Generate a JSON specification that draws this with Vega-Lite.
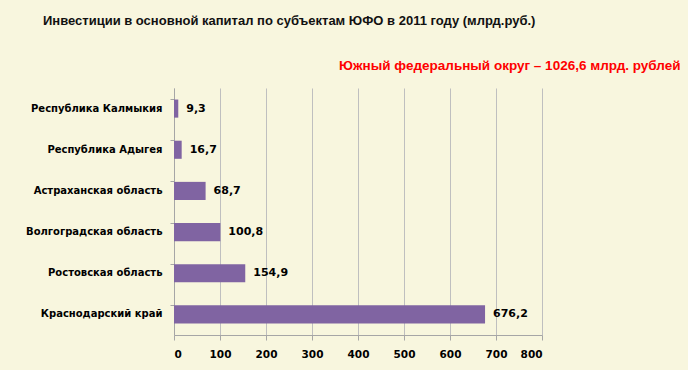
{
  "$schema": "https://vega.github.io/schema/vega-lite/v6.json",
  "autosize": "none",
  "width": 368,
  "height": 247,
  "padding": {"left": 174, "top": 88, "right": 146, "bottom": 35},
  "background": "#f8f6de",
  "config": {
    "view": {"stroke": null},
    "font": "Liberation Sans",
    "locale": {"number": {"decimal": ",", "thousands": " ", "grouping": [3], "currency": ["", " ₽"]}}
  },
  "title": {
    "text": "Инвестиции в основной капитал по субъектам ЮФО в 2011 году (млрд.руб.)",
    "anchor": "start",
    "frame": "group",
    "dx": -131,
    "offset": 20,
    "baseline": "alphabetic",
    "fontSize": 13,
    "fontWeight": "bold",
    "color": "#111111",
    "font": "Liberation Sans"
  },
  "data": {
    "values": [
      {"region": "Республика Калмыкия", "value": 9.3},
      {"region": "Республика Адыгея", "value": 16.7},
      {"region": "Астраханская область", "value": 68.7},
      {"region": "Волгоградская область", "value": 100.8},
      {"region": "Ростовская область", "value": 154.9},
      {"region": "Краснодарский край", "value": 676.2}
    ]
  },
  "encoding": {
    "y": {
      "field": "region",
      "type": "nominal",
      "sort": null,
      "scale": {"paddingInner": 0.56, "paddingOuter": 0.28},
      "axis": {
        "title": null,
        "bandPosition": 0,
        "domainColor": "#a6a6a6",
        "tickColor": "#a6a6a6",
        "tickSize": 4,
        "labelFont": "DejaVu Sans",
        "labelFontWeight": "bold",
        "labelFontSize": 10,
        "labelColor": "#000000",
        "labelPadding": 8
      }
    }
  },
  "layer": [
    {
      "mark": {"type": "bar", "color": "#8064a2"},
      "encoding": {
        "x": {
          "field": "value",
          "type": "quantitative",
          "scale": {"domain": [0, 800], "nice": false},
          "axis": {
            "title": null,
            "values": [0, 100, 200, 300, 400, 500, 600, 700, 800],
            "grid": true,
            "gridColor": "#bfbfbf",
            "domainColor": "#a6a6a6",
            "tickColor": "#a6a6a6",
            "tickSize": 5,
            "labelFont": "DejaVu Sans",
            "labelFontWeight": "bold",
            "labelFontSize": 10.5,
            "labelColor": "#000000",
            "labelPadding": 9
          }
        }
      }
    },
    {
      "mark": {"type": "text", "align": "left", "dx": 8, "font": "DejaVu Sans", "fontWeight": "bold", "fontSize": 11, "color": "#000000"},
      "encoding": {
        "x": {
          "field": "value",
          "type": "quantitative",
          "axis": {
            "orient": "top",
            "labels": false,
            "ticks": false,
            "domain": false,
            "grid": false,
            "title": "Южный федеральный округ – 1026,6 млрд. рублей",
            "titleColor": "#ff0000",
            "titleFont": "Liberation Sans",
            "titleFontWeight": "bold",
            "titleFontSize": 13.5,
            "titleAlign": "right",
            "titleAnchor": null,
            "titleX": 506,
            "titleY": -19,
            "titleBaseline": "alphabetic"
          }
        },
        "text": {"field": "value", "type": "quantitative", "format": ".1f"}
      }
    }
  ],
  "resolve": {"axis": {"x": "independent"}}
}
